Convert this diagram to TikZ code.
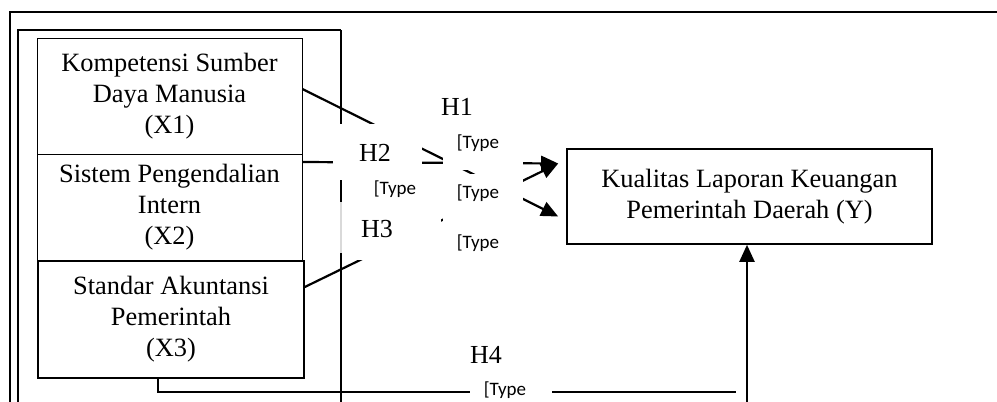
\documentclass[tikz,border=0pt]{standalone}
\usepackage{fontspec}
\setmainfont{Liberation Serif}
\newfontfamily\typefont{Carlito}
\usetikzlibrary{arrows.meta}
\begin{document}
\begin{tikzpicture}[x=1pt,y=-1pt,
  varbox/.style={draw,line width=0.8pt,align=center,inner sep=0pt,
    font=\fontsize{26.4}{31}\selectfont},
  thickbox/.style={varbox,line width=1.6pt},
  link/.style={line width=2.2pt,-{Triangle[length=17pt,width=15pt]}},
  plainlink/.style={line width=2.2pt},
  hlabel/.style={inner sep=0pt,font=\fontsize{26}{30}\selectfont},
  typelabel/.style={inner sep=0pt,font=\typefont\fontsize{19}{22}\selectfont},
  patch/.style={white}]
\useasboundingbox (0,0) rectangle (997,402);

% outer frames
\draw[line width=1.3pt] (997,12) -- (10,12) -- (10,402);
\draw[line width=2pt] (18,402) -- (18,30) -- (341,30);
\draw[line width=1.1pt] (341,30) -- (341,202);
\draw[line width=1.1pt,black!15] (341,202) -- (341,253);
\draw[line width=1.1pt] (341,253) -- (341,402);

% variable boxes
\node[varbox,minimum width=265pt,minimum height=116pt] (X1) at (169.5,96)
  {Kompetensi Sumber\\Daya Manusia\\(X1)};
\node[varbox,minimum width=265pt,minimum height=107pt] (X2) at (169.5,207.5)
  {\raisebox{-4pt}{\begin{tabular}{@{}c@{}}Sistem Pengendalian\\Intern\\(X2)\end{tabular}}};
\node[thickbox,fill=white,minimum width=266pt,minimum height=117pt] (X3) at (171,319.5)
  {Standar Akuntansi\\Pemerintah\\(X3)};
\node[thickbox,minimum width=365pt,minimum height=95pt] (Y) at (749.5,196.5)
  {\raisebox{4pt}{\begin{tabular}{@{}c@{}}Kualitas Laporan Keuangan\\Pemerintah Daerah (Y)\end{tabular}}};

% hypothesis connectors
\draw[link] ([yshift=7pt]X1.east) -- ([xshift=-8pt,yshift=-20pt]Y.west);
\draw[link] ([yshift=45.5pt]X2.east) -- ([xshift=-8pt,yshift=33pt]Y.west);
\draw[link] ([yshift=32.5pt]X3.east) -- ([xshift=-8pt,yshift=33pt]Y.west);
\coordinate (h4end) at (736,392);
\coordinate (h4foot) at (747,402);
\draw[plainlink] ([xshift=-13pt]X3.south) |- (h4end);
\draw[link] (h4foot) -- ([xshift=-2.5pt]Y.south);

% white label backgrounds
\fill[patch] (333,124) rectangle (422,180);
\fill[patch] (343,202) rectangle (441,260);
\fill[patch] (443,95) rectangle (523,170);
\fill[patch] (443,174) rectangle (523,260);
\fill[patch] (470,340) rectangle (552,402);

% hypothesis labels
\node[hlabel] (H1) at (457,107) {H1};
\node[typelabel] (t1) at (478,143) {[Type};
\node[typelabel] (t2) at (478,193) {[Type};
\node[typelabel] (t3) at (478,243) {[Type};
\node[hlabel] (H2) at (375,153) {H2};
\node[typelabel] (t4) at (395,189) {[Type};
\node[hlabel] (H3) at (377,229) {H3};
\node[hlabel] (H4) at (486,355) {H4};
\node[typelabel] (t5) at (505,390) {[Type};
\end{tikzpicture}
\end{document}
